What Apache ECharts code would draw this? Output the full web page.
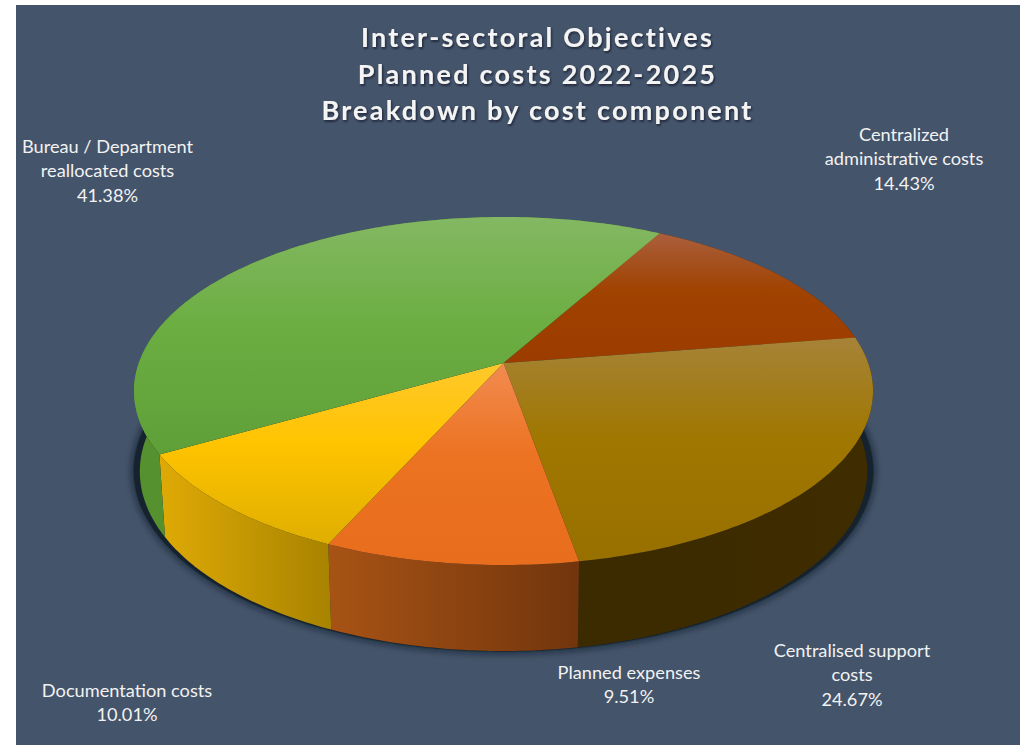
<!DOCTYPE html>
<html>
<head>
<meta charset="utf-8">
<title>Inter-sectoral Objectives</title>
<script src="https://cdn.jsdelivr.net/npm/echarts@6/dist/echarts.min.js"></script>
<style>
  html, body { margin: 0; padding: 0; background: #ffffff; }
  #chart { width: 1025px; height: 750px; }
  /* the heading is the only bold text in the chart and is tracked out */
  #chart svg text[style*="bold"] { letter-spacing: 2.25px; }
</style>
</head>
<body>
<div id="chart"></div>
<script>
// Slices run clockwise from the boundary between the Bureau and administrative shares.
const categories = [
  'Centralized\nadministrative costs',
  'Centralised support\ncosts',
  'Planned expenses',
  'Documentation costs',
  'Bureau / Department\nreallocated costs'
];
const shares = [14.43, 24.67, 9.51, 10.01, 41.38];
const titleLines = ['Inter-sectoral Objectives', 'Planned costs 2022-2025', 'Breakdown by cost component'];

// Face shading per slice: light rim, base colour, lower tone.
const faceLight = ['#aa5f3c', '#a68338', '#f28b50', '#ffc82c', '#84b863'];
const faceBase  = ['#a04200', '#a07700', '#ec7322', '#ffc400', '#6cae42'];
const faceLow   = ['#9c3c00', '#987000', '#e86d1c', '#dfae00', '#5f9f38'];
const wallLeft  = ['#5a2200', '#3c2a00', '#a85315', '#dfaa06', '#55912f'];
const wallRight = ['#5a2200', '#3f2d00', '#72350c', '#a88300', '#55912f'];

// Perspective disc: u across, v towards the viewer, both on the unit circle.
const START_DEG = 29.2;
const TOP = { x0: 503.5, y0: 363, a: 364.7, b: 169.5, k: 0.161 };
const BASE = { x0: 503.5, y0: 442.7, a: 359, b: 175, k: 0.16 };
const SHADOW = { x0: 503.5, y0: 442, a: 365, b: 176, k: 0.16 };
const LABEL_CENTRES = [[904, 158], [852, 674], [629, 684], [127, 702], [107.5, 170]];
const FONT = 'Lato, "Noto Sans", sans-serif';

function project(disc, deg) {
  const t = deg * Math.PI / 180;
  const u = Math.sin(t), v = -Math.cos(t);
  const d = 1 - disc.k * v;
  return [disc.x0 + disc.a * u / d, disc.y0 + disc.b * v / d];
}

function arc(disc, from, to) {
  const pts = [];
  const steps = Math.max(2, Math.ceil(Math.abs(to - from)));
  for (let i = 0; i <= steps; i++) pts.push(project(disc, from + (to - from) * i / steps));
  return pts;
}

function sliceRange(index) {
  let from = START_DEG;
  for (let i = 0; i < index; i++) from += shares[i] * 3.6;
  return [from, from + shares[index] * 3.6];
}

const rows = categories.map((name, i) => [name, shares[i]]);

function renderShadow(params, api) {
  if (params.dataIndex !== 0) return;
  return {
    type: 'polygon',
    shape: { points: arc(SHADOW, 0, 360) },
    style: { fill: '#17212f', shadowColor: 'rgba(12,20,32,1)', shadowBlur: 8 }
  };
}

function renderWall(params, api) {
  const i = params.dataIndex;
  const span = api.value(1) * 3.6;
  const from = sliceRange(i)[0];
  const points = arc(TOP, from, from + span).concat(arc(BASE, from + span, from));
  return {
    type: 'polygon',
    shape: { points },
    style: {
      fill: new echarts.graphic.LinearGradient(0, 0, 1, 0, [
        { offset: 0, color: wallLeft[i] },
        { offset: 1, color: wallRight[i] }
      ])
    }
  };
}

function renderFace(params, api) {
  const i = params.dataIndex;
  const span = api.value(1) * 3.6;
  const from = sliceRange(i)[0];
  const points = [[TOP.x0, TOP.y0]].concat(arc(TOP, from, from + span));
  return {
    type: 'group',
    children: [
      {
        type: 'polygon',
        shape: { points },
        style: {
          fill: new echarts.graphic.LinearGradient(0, 0, 0, 1, [
            { offset: 0, color: faceLight[i] },
            { offset: 0.45, color: faceBase[i] },
            { offset: 1, color: faceLow[i] }
          ])
        }
      },
      {
        type: 'text',
        x: LABEL_CENTRES[i][0],
        y: LABEL_CENTRES[i][1],
        style: {
          text: api.value(0) + '\n' + api.value(1).toFixed(2) + '%',
          fill: '#f2f2f2',
          font: '400 18.2px ' + FONT,
          lineHeight: 24.5,
          align: 'center',
          verticalAlign: 'middle'
        }
      }
    ]
  };
}

const chart = echarts.init(document.getElementById('chart'), null, { renderer: 'svg' });

chart.setOption({
  animation: false,
  backgroundColor: '#ffffff',
  title: {
    text: titleLines.join('\n'),
    left: 532.5,
    top: 13.5,
    textAlign: 'center',
    textStyle: {
      color: '#f4f4f4',
      fontFamily: FONT,
      fontWeight: 'bold',
      fontSize: 27,
      lineHeight: 36.5,
      textShadowColor: 'rgba(15,22,35,0.75)',
      textShadowBlur: 2,
      textShadowOffsetX: 1,
      textShadowOffsetY: 1.5
    }
  },
  graphic: [{
    type: 'rect',
    z: -10,
    silent: true,
    shape: { x: 16, y: 5, width: 1004, height: 740 },
    style: { fill: '#44546a' }
  }],
  series: [
    { type: 'custom', name: 'shadow', coordinateSystem: 'none', silent: true, data: rows, renderItem: renderShadow, z: 1 },
    { type: 'custom', name: 'walls', coordinateSystem: 'none', silent: true, data: rows, renderItem: renderWall, z: 2 },
    { type: 'custom', name: 'faces', coordinateSystem: 'none', silent: true, data: rows, renderItem: renderFace, z: 3 }
  ]
});
</script>
</body>
</html>
